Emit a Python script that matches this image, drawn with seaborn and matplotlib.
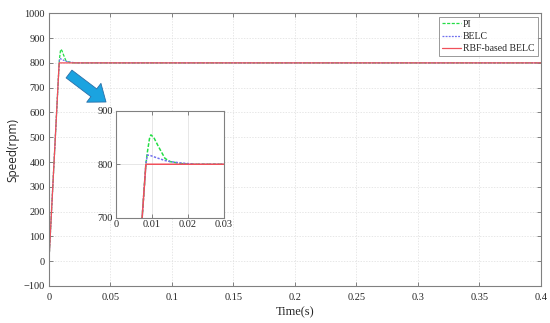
import matplotlib
matplotlib.use("Agg")
import matplotlib.pyplot as plt
import seaborn as sns
import pandas as pd
from matplotlib.ticker import FuncFormatter, MultipleLocator

# ---- data ----
time_s = [0, 0.0083, 0.0087, 0.0093, 0.0097, 0.0105, 0.0118, 0.0136, 0.015,
          0.0178, 0.0196, 0.022, 0.03, 0.4]
speed_pi = [0, 800, 822, 848, 855, 850, 833, 811, 805, 801.5, 800.5, 800, 800, 800]
speed_belc = [0, 800, 817, 817, 816, 814, 811, 807, 805, 802.5, 801.5, 800, 800, 800]
speed_rbf = [0, 800, 800, 800, 800, 800, 800, 800, 800, 800, 800, 800, 800, 800]
series_names = ["PI", "BELC", "RBF-based BELC"]

sns.set_style("ticks")
plt.rcParams["font.family"] = ["Liberation Serif", "DejaVu Serif"]
plt.rcParams["xtick.direction"] = "in"
plt.rcParams["ytick.direction"] = "in"

df = pd.concat([
    pd.DataFrame({"t": time_s, "v": speed_pi, "s": series_names[0]}),
    pd.DataFrame({"t": time_s, "v": speed_belc, "s": series_names[1]}),
    pd.DataFrame({"t": time_s, "v": speed_rbf, "s": series_names[2]}),
])

styles = {
    "PI": dict(color="#22dd44", ls=(0, (2.5, 1.2)), lw=0.9),
    "BELC": dict(color="#6f6fee", ls=(0, (1.5, 1.0)), lw=0.9),
    "RBF-based BELC": dict(color="#f0505a", ls="-", lw=0.9),
}

fig = plt.figure(figsize=(5.5, 3.23), dpi=100)
ax = fig.add_axes([0.089, 0.1146, 0.8946, 0.8442])
ins = fig.add_axes([0.2109, 0.326, 0.1964, 0.331])

for a in (ax, ins):
    for name in series_names:
        sub = df[df["s"] == name]
        st = styles[name]
        sns.lineplot(data=sub, x="t", y="v", ax=a, color=st["color"],
                     linestyle=st["ls"], linewidth=st["lw"] if a is ax else st["lw"] * 1.2,
                     label=name, legend=False, sort=False, estimator=None)

def fmt(v, p):
    return "%g" % round(v, 4)

grey = "#808080"
# main axes
ax.set_xlim(0, 0.4)
ax.set_ylim(-100, 1000)
ax.xaxis.set_major_locator(MultipleLocator(0.05))
ax.yaxis.set_major_locator(MultipleLocator(100))
ax.xaxis.set_major_formatter(FuncFormatter(fmt))
ax.set_xlabel("Time(s)", fontsize=9, labelpad=3)
ax.set_ylabel("Speed(rpm)", fontsize=8.5, labelpad=3,
              family=["Open Sans", "DejaVu Sans"])
ax.grid(True, color="#dddddd", ls=(0, (2, 2)), lw=0.5)
ax.tick_params(labelsize=7.5, top=True, right=True, length=3, color=grey, width=0.7)
ax.tick_params(axis="x", pad=5)
ax.tick_params(axis="y", pad=3)
for sp in ax.spines.values():
    sp.set_color(grey)
    sp.set_linewidth(0.8)

leg = ax.legend(loc="upper right", fontsize=7, frameon=True, fancybox=False,
                borderpad=0.3, handlelength=2.0, handletextpad=0.2,
                labelspacing=0.35, borderaxespad=0.35)
leg.get_frame().set_edgecolor(grey)
leg.get_frame().set_linewidth(0.7)

# inset
ins.set_xlim(0, 0.03)
ins.set_ylim(700, 900)
ins.set_xticks([0, 0.01, 0.02, 0.03])
ins.set_yticks([700, 800, 900])
ins.xaxis.set_major_formatter(FuncFormatter(fmt))
ins.set_xlabel("")
ins.set_ylabel("")
ins.grid(True, color="#dddddd", ls="-", lw=0.5)
ins.tick_params(labelsize=7.5, top=True, right=True, length=3, color=grey, width=0.7, pad=2)
for sp in ins.spines.values():
    sp.set_color(grey)
    sp.set_linewidth(0.8)

# arrow pointing to inset
ax.annotate("", xy=(106, 323 - 102), xytext=(69, 323 - 74),
            xycoords="figure pixels", textcoords="figure pixels",
            arrowprops=dict(arrowstyle="simple,head_length=1.1,head_width=1.7,tail_width=0.7",
                            mutation_scale=10, fc="#1ba3e0", ec="#2a6fa8", lw=0.6,
                            shrinkA=0, shrinkB=0))

fig.savefig("out.png", dpi=100)
